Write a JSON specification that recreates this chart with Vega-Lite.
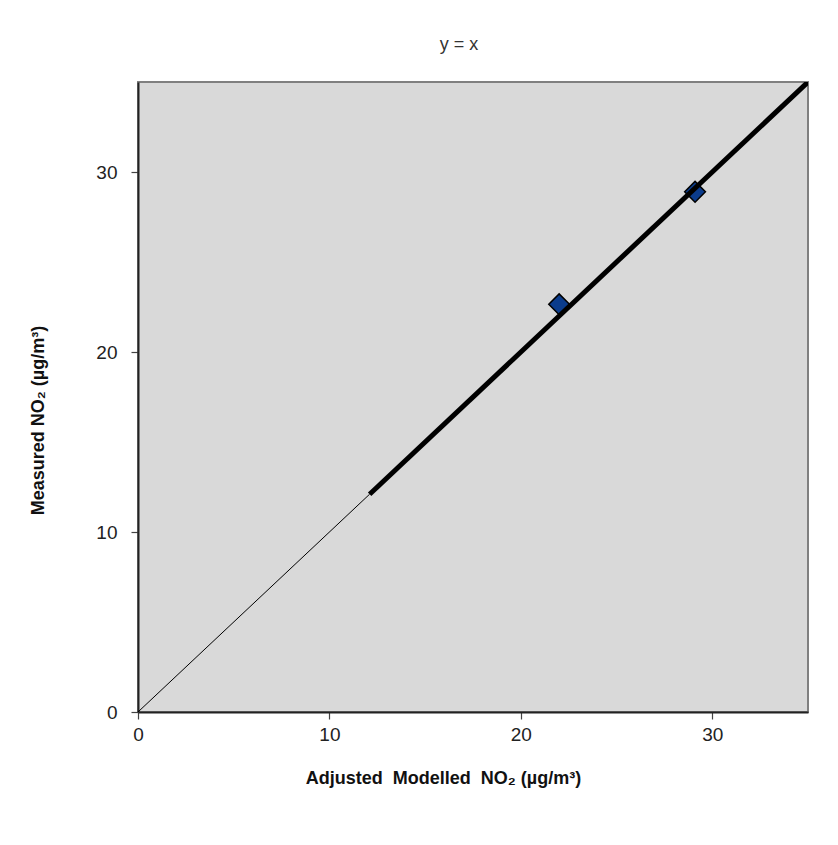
{
  "$schema": "https://vega.github.io/schema/vega-lite/v6.json",
  "width": 670,
  "height": 630,
  "autosize": {"type": "none"},
  "padding": {"left": 138, "top": 82, "right": 30, "bottom": 133},
  "background": "white",
  "title": {"text": "y = x", "fontSize": 18, "font": "Liberation Sans", "fontWeight": "normal", "color": "#333", "offset": 28, "dx": -14, "anchor": "middle"},
  "config": {
    "view": {"fill": "#D9D9D9", "stroke": "#808080", "strokeWidth": 2},
    "axis": {"labelFont": "Liberation Sans", "titleFont": "Liberation Sans", "labelFontSize": 19, "titleFontSize": 18, "labelColor": "#222", "titleColor": "#111", "grid": false, "domainColor": "#222", "domainWidth": 2, "tickColor": "#444", "tickSize": 7, "tickWidth": 1.2, "labelFlush": false, "labelOverlap": false}
  },
  "datasets": {
    "pts": [
      {"modelled": 22.0, "measured": 22.65},
      {"modelled": 29.1, "measured": 28.9}
    ],
    "line": [
      {"x": 0, "y": 0, "seg": "thin"},
      {"x": 12.1, "y": 12.1, "seg": "thin"},
      {"x": 12.1, "y": 12.1, "seg": "thick"},
      {"x": 35, "y": 35, "seg": "thick"}
    ]
  },
  "layer": [
    {
      "data": {"name": "pts"},
      "mark": {"type": "point", "shape": "diamond", "filled": true, "fill": "#0B3C8C", "stroke": "#000", "strokeWidth": 1.5, "size": 430, "opacity": 1},
      "encoding": {
        "x": {"field": "modelled", "type": "quantitative", "scale": {"domain": [0, 35], "nice": false, "zero": true},
          "axis": {"values": [0, 10, 20, 30], "title": "Adjusted\u00a0\u00a0Modelled\u00a0\u00a0NO₂ (µg/m³)", "titleFontWeight": "bold", "labelPadding": 6, "titleX": 305, "titleY": 66, "titleBaseline": "middle"}},
        "y": {"field": "measured", "type": "quantitative", "scale": {"domain": [0, 35], "nice": false},
          "axis": {"values": [0, 10, 20, 30], "title": "Measured NO₂ (µg/m³)", "titleFontWeight": "bold", "labelPadding": 14, "titleX": -100, "titleY": 338, "titleBaseline": "middle"}}
      }
    },
    {
      "data": {"name": "line"},
      "mark": {"type": "line", "color": "#000", "clip": true},
      "encoding": {
        "x": {"field": "x", "type": "quantitative"},
        "y": {"field": "y", "type": "quantitative"},
        "detail": {"field": "seg"},
        "strokeWidth": {"field": "seg", "type": "nominal", "scale": {"domain": ["thin", "thick"], "range": [1, 5]}, "legend": null}
      }
    }
  ]
}
